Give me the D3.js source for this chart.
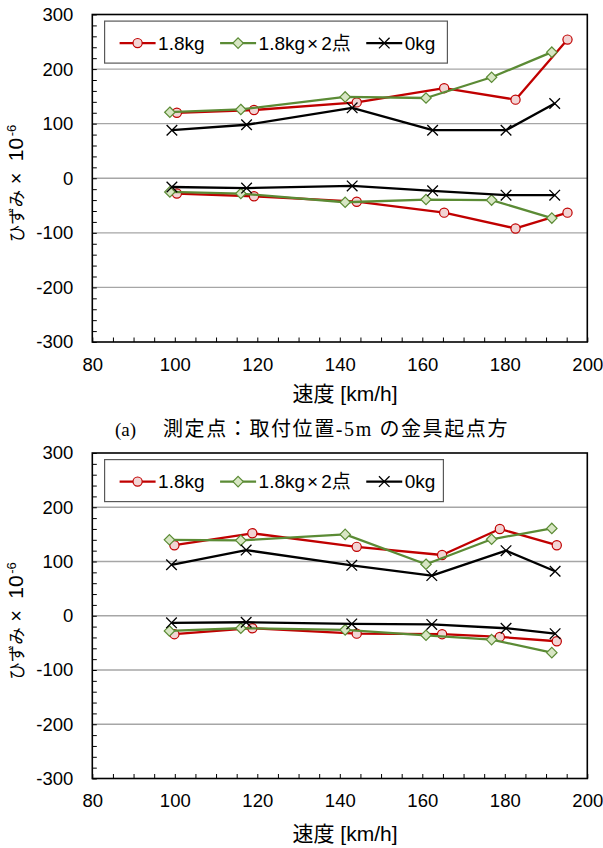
<!DOCTYPE html>
<html lang="ja">
<head>
<meta charset="utf-8">
<title>ひずみ - 速度</title>
<script src="https://cdnjs.cloudflare.com/ajax/libs/d3/7.8.5/d3.min.js"></script>
<style>
  body { margin: 0; background: #fff; }
  svg { display: block; }
</style>
</head>
<body>
<script>

// axes
var xTicks = [80, 100, 120, 140, 160, 180, 200];
var yTicks = [-300, -200, -100, 0, 100, 200, 300];
var gridValues = [-200, -100, 0, 100, 200];
var seriesNames = ['1.8kg', '1.8kg×2点', '0kg'];

// panel (a): speed [km/h] and strain (upper / lower gauge)
var speedA_18 = [100.5, 119.2, 144.1, 165.3, 182.6, 195.2];
var upperA_18 = [120, 125, 139, 165, 144, 254];
var lowerA_18 = [-28, -33, -43, -63, -92, -63];

var speedA_18x2 = [98.8, 116.0, 141.3, 160.9, 176.8, 191.4];
var upperA_18x2 = [121, 126, 149, 147, 185, 231];
var lowerA_18x2 = [-25, -28, -44, -39, -40, -73];

var speedA_0 = [99.3, 117.4, 143.0, 162.5, 180.3, 192.1];
var upperA_0 = [88, 98, 129, 88, 88, 137];
var lowerA_0 = [-16, -18, -14, -23, -31, -31];

// panel (b)
var speedB_18 = [99.9, 118.8, 144.1, 164.8, 178.8, 192.6];
var upperB_18 = [130, 152, 127, 112, 160, 130];
var lowerB_18 = [-34, -23, -33, -34, -39, -47];

var speedB_18x2 = [98.7, 116.0, 141.3, 160.9, 176.8, 191.4];
var upperB_18x2 = [140, 139, 150, 95, 141, 161];
var lowerB_18x2 = [-28, -23, -26, -36, -44, -68];

var speedB_0 = [99.2, 117.3, 142.9, 162.3, 180.3, 192.2];
var upperB_0 = [94, 121, 93, 74, 120, 82];
var lowerB_0 = [-13, -12, -15, -16, -23, -33];

var captionA = '(a)';
var captionAText = '測定点：取付位置-5m の金具起点方';

// styles
var seriesStyle = [
	{ color: '#c00000', fill: '#f2d4d4', marker: 'circle' },
	{ color: '#5b8b35', fill: '#d8e6c4', marker: 'diamond' },
	{ color: '#000000', fill: 'none', marker: 'x' }
];

var w = 603, h = 848;
var left = 92.3, right = 587.3;
var tickFont = '"Liberation Sans", Arial, sans-serif';
var cjkFont = '"Liberation Sans", "Noto Sans CJK JP", sans-serif';

var panels = [
	{ top: 14.5, bottom: 342, titleY: 401, legendPad: 12,
	  series: [
		{ speed: speedA_18, upper: upperA_18, lower: lowerA_18 },
		{ speed: speedA_18x2, upper: upperA_18x2, lower: lowerA_18x2 },
		{ speed: speedA_0, upper: upperA_0, lower: lowerA_0 }
	  ] },
	{ top: 453, bottom: 778.5, titleY: 841, legendPad: 8,
	  series: [
		{ speed: speedB_18, upper: upperB_18, lower: lowerB_18 },
		{ speed: speedB_18x2, upper: upperB_18x2, lower: lowerB_18x2 },
		{ speed: speedB_0, upper: upperB_0, lower: lowerB_0 }
	  ] }
];

var svg = d3.select('body').append('svg')
	.attr('width', w)
	.attr('height', h);

svg.append('rect').attr('width', w).attr('height', h).attr('fill', '#fff');

function marker(sel, type, color, fill) {
	if (type === 'circle') {
		sel.append('circle').attr('r', 4.6)
			.attr('fill', fill).attr('stroke', color).attr('stroke-width', 1.2);
	} else if (type === 'diamond') {
		sel.append('path').attr('d', 'M0,-5.2L5.2,0L0,5.2L-5.2,0Z')
			.attr('fill', fill).attr('stroke', color).attr('stroke-width', 1.2);
	} else {
		sel.append('path').attr('d', 'M-5.3,-5.3L5.3,5.3M-5.3,5.3L5.3,-5.3')
			.attr('fill', 'none').attr('stroke', color).attr('stroke-width', 1.3);
	}
}

function drawPanel(p) {
	var g = svg.append('g');

	var x = d3.scaleLinear().domain([80, 200]).range([left, right]);
	var y = d3.scaleLinear().domain([-300, 300]).range([p.bottom, p.top]);

	// gridlines
	g.append('g')
		.selectAll('line')
		.data(gridValues)
		.join('line')
		.attr('x1', left).attr('x2', right)
		.attr('y1', d => y(d)).attr('y2', d => y(d))
		.attr('stroke', '#a6a6a6')
		.attr('stroke-width', 1.3);

	// minor ticks, pointing inward
	g.append('g')
		.attr('transform', `translate(0,${p.bottom})`)
		.call(d3.axisBottom(x).tickValues(d3.range(80, 201, 5)).tickSize(-4.5).tickFormat(''))
		.call(a => a.select('.domain').remove())
		.call(a => a.selectAll('line').attr('stroke', '#000'));

	g.append('g')
		.attr('transform', `translate(${left},0)`)
		.call(d3.axisLeft(y).tickValues(d3.range(-300, 301, 20)).tickSize(-4.5).tickFormat(''))
		.call(a => a.select('.domain').remove())
		.call(a => a.selectAll('line').attr('stroke', '#000'));

	// tick labels (plain hyphen minus like the original)
	g.append('g')
		.attr('transform', `translate(0,${p.bottom})`)
		.call(d3.axisBottom(x).tickValues(xTicks).tickSize(0).tickPadding(15.5).tickFormat(d => String(d)))
		.call(a => a.select('.domain').remove())
		.attr('font-family', tickFont)
		.attr('font-size', 18.5)
		.call(a => a.selectAll('text').attr('fill', '#000'));

	g.append('g')
		.attr('transform', `translate(${left},0)`)
		.call(d3.axisLeft(y).tickValues(yTicks).tickSize(0).tickPadding(19).tickFormat(d => String(d)))
		.call(a => a.select('.domain').remove())
		.attr('font-family', tickFont)
		.attr('font-size', 18.5)
		.call(a => a.selectAll('text').attr('fill', '#000'));

	// frame
	g.append('rect')
		.attr('x', left).attr('y', p.top)
		.attr('width', right - left).attr('height', p.bottom - p.top)
		.attr('fill', 'none')
		.attr('stroke', '#000')
		.attr('stroke-width', 1.6);

	// series
	var line = d3.line().x(d => x(d[0])).y(d => y(d[1]));
	p.series.forEach(function(s, i) {
		var st = seriesStyle[i];
		[s.upper, s.lower].forEach(function(vals) {
			var pts = s.speed.map((v, k) => [v, vals[k]]);
			g.append('path')
				.attr('d', line(pts))
				.attr('fill', 'none')
				.attr('stroke', st.color)
				.attr('stroke-width', 2.3)
				.attr('stroke-linejoin', 'round');
			g.append('g')
				.selectAll('g')
				.data(pts)
				.join('g')
				.attr('transform', d => `translate(${x(d[0])},${y(d[1])})`)
				.each(function() { marker(d3.select(this), st.marker, st.color, st.fill); });
		});
	});

	// legend
	var lg = g.append('g');
	var box = lg.append('rect')
		.attr('fill', '#fff')
		.attr('stroke', '#595959')
		.attr('stroke-width', 1.2);
	var ly = p.top + 28.6;
	var cx = left + 12.3 + 15;
	seriesNames.forEach(function(name, i) {
		var st = seriesStyle[i];
		lg.append('line')
			.attr('x1', cx).attr('x2', cx + 36)
			.attr('y1', ly).attr('y2', ly)
			.attr('stroke', st.color).attr('stroke-width', 2.3);
		var m = lg.append('g').attr('transform', `translate(${cx + 18},${ly})`);
		marker(m, st.marker, st.color, st.fill);
		var t = lg.append('text')
			.attr('x', cx + 38.5).attr('y', ly + 6.8)
			.attr('font-family', cjkFont)
			.attr('font-size', 19)
			.attr('fill', '#000');
		var parts = name.split('×');
		t.append('tspan').text(parts[0]);
		if (parts.length > 1) {
			t.append('tspan').attr('dx', 2).text('×');
			t.append('tspan').attr('dx', 3).text(parts[1]);
		}
		cx = cx + 38.5 + t.node().getComputedTextLength() + (parts.length > 1 ? 5 : 0) + 15.5;
	});
	box.attr('x', left + 12.3).attr('y', p.top + 6.6)
		.attr('width', cx - 15.5 + p.legendPad - (left + 12.3))
		.attr('height', 42);

	// axis titles
	g.append('text')
		.attr('x', 345).attr('y', p.titleY)
		.attr('text-anchor', 'middle')
		.attr('font-family', cjkFont)
		.attr('font-size', 21)
		.attr('fill', '#000')
		.text('速度 [km/h]');

	var yc = y(0);
	var yt = g.append('text')
		.attr('transform', `translate(23,${yc + 64}) rotate(-90)`)
		.attr('font-family', cjkFont)
		.attr('fill', '#000');
	yt.append('tspan').attr('x', 0).attr('font-family', '"Noto Sans CJK JP", sans-serif').attr('font-size', 17.5).text('ひずみ');
	yt.append('tspan').attr('x', 58).attr('font-size', 20).text('×');
	yt.append('tspan').attr('x', 81).attr('font-size', 21).text('10');
	yt.append('tspan').attr('x', 106).attr('dy', -7.5).attr('font-size', 13).text('-6');
}

panels.forEach(drawPanel);

// caption under panel (a)
var capFont = '"Liberation Serif", "Noto Sans CJK JP", serif';
svg.append('text')
	.attr('x', 115).attr('y', 436)
	.attr('font-family', capFont)
	.attr('font-size', 19)
	.attr('fill', '#000')
	.text(captionA);
svg.append('text')
	.attr('x', 163).attr('y', 436)
	.attr('font-family', capFont)
	.attr('font-size', 20)
	.attr('letter-spacing', 1.6)
	.attr('fill', '#000')
	.text(captionAText);

</script>
</body>
</html>
